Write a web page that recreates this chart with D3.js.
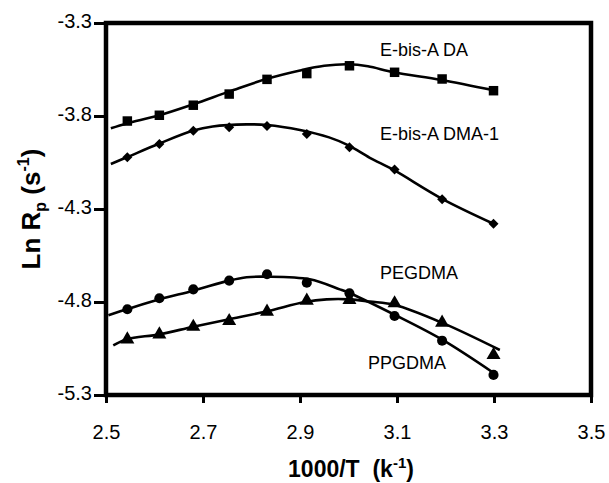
<!DOCTYPE html>
<html>
<head>
<meta charset="utf-8">
<script src="https://cdn.jsdelivr.net/npm/d3@7"></script>
<style>
  html, body { margin: 0; padding: 0; background: #fff; }
  svg { display: block; font-family: "Liberation Sans", Arial, Helvetica, sans-serif; }
</style>
</head>
<body>
<svg id="chart" width="609" height="483"></svg>
<script>
// ---- data ----
const invT = [2.544, 2.610, 2.680, 2.754, 2.832, 2.914, 3.002, 3.095, 3.193, 3.299];
const ebisADA   = [-3.827, -3.796, -3.742, -3.682, -3.603, -3.572, -3.530, -3.565, -3.601, -3.664];
const ebisADMA1 = [-4.022, -3.951, -3.879, -3.861, -3.854, -3.897, -3.968, -4.087, -4.248, -4.379];
const pegdma    = [-4.839, -4.780, -4.732, -4.685, -4.651, -4.696, -4.753, -4.875, -5.008, -5.192];
const ppgdma    = [-5.001, -4.974, -4.933, -4.902, -4.852, -4.793, -4.789, -4.807, -4.911, -5.085];

// trend curves as drawn in the reference
const fitDA   = [[2.51,-3.866],[2.543,-3.840],[2.61,-3.796],[2.68,-3.737],[2.754,-3.669],[2.832,-3.600],[2.90,-3.555],[2.95,-3.530],[3.0,-3.522],[3.04,-3.533],[3.093,-3.565],[3.191,-3.606],[3.299,-3.661]];
const fitDMA1 = [[2.51,-4.058],[2.543,-4.022],[2.61,-3.948],[2.68,-3.878],[2.72,-3.856],[2.79,-3.845],[2.832,-3.848],[2.9,-3.875],[2.96,-3.915],[3.0,-3.958],[3.044,-4.025],[3.093,-4.090],[3.193,-4.245],[3.299,-4.379]];
const fitPEG  = [[2.505,-4.871],[2.543,-4.839],[2.61,-4.785],[2.68,-4.739],[2.754,-4.685],[2.79,-4.667],[2.831,-4.664],[2.92,-4.678],[2.982,-4.732],[3.003,-4.753],[3.096,-4.870],[3.194,-5.004],[3.300,-5.183]];
const fitPPG  = [[2.515,-5.033],[2.543,-5.000],[2.61,-4.974],[2.68,-4.933],[2.754,-4.893],[2.832,-4.850],[2.91,-4.800],[2.955,-4.786],[3.003,-4.786],[3.044,-4.798],[3.096,-4.816],[3.196,-4.915],[3.312,-5.058]];

const xTicks = [2.5, 2.7, 2.9, 3.1, 3.3, 3.5];
const yTicks = [-3.3, -3.8, -4.3, -4.8, -5.3];

const seriesLabels = ["E-bis-A DA", "E-bis-A DMA-1", "PEGDMA", "PPGDMA"];

// ---- layout ----
const svg = d3.select("#chart");
const L = 106, R = 591, T = 23, B = 395;
const x = d3.scaleLinear().domain([2.5, 3.5]).range([L, R]);
const y = d3.scaleLinear().domain([-5.3, -3.3]).range([B, T]);
const fmt = d => d.toFixed(1);

// frame
svg.append("rect").attr("x", L).attr("y", T).attr("width", R - L).attr("height", B - T)
  .attr("fill", "none").attr("stroke", "#000").attr("stroke-width", 4.5);

// axes
const xAxis = d3.axisBottom(x).tickValues(xTicks).tickFormat(fmt).tickSizeInner(8).tickSizeOuter(0).tickPadding(22);
const gx = svg.append("g").attr("transform", `translate(0,${B})`).call(xAxis);
gx.select(".domain").remove();
gx.selectAll(".tick line").attr("stroke", "#000").attr("stroke-width", 3);
gx.selectAll(".tick text").attr("font-size", 20).attr("fill", "#000")
  .attr("font-family", "Liberation Sans, Arial, sans-serif").attr("dy", "0.71em");

const yAxis = d3.axisLeft(y).tickValues(yTicks).tickFormat(fmt).tickSizeInner(12).tickSizeOuter(0).tickPadding(2);
const gy = svg.append("g").attr("transform", `translate(${L},0)`).call(yAxis);
gy.select(".domain").remove();
gy.selectAll(".tick line").attr("stroke", "#000").attr("stroke-width", 3);
gy.selectAll(".tick text").attr("font-size", 20).attr("fill", "#000")
  .attr("font-family", "Liberation Sans, Arial, sans-serif").attr("dy", "0.2em");

// axis titles
const xt = svg.append("text").attr("x", 351).attr("y", 477).attr("text-anchor", "middle")
  .attr("font-size", 23).attr("font-weight", "bold");
xt.append("tspan").text("1000/T\u00a0\u00a0(k");
xt.append("tspan").attr("font-size", 15).attr("dy", -9).text("-1");
xt.append("tspan").attr("dy", 9).text(")");

const yt = svg.append("text").attr("transform", "translate(40,209) rotate(-90)")
  .attr("text-anchor", "middle").attr("font-size", 26).attr("font-weight", "bold");
yt.append("tspan").text("Ln R");
yt.append("tspan").attr("font-size", 16).attr("dy", 6).text("p");
yt.append("tspan").attr("dy", -6).text(" (s");
yt.append("tspan").attr("font-size", 16).attr("dy", -11).text("-1");
yt.append("tspan").attr("dy", 11).text(")");

// curves
const line = d3.line().x(d => x(d[0])).y(d => y(d[1])).curve(d3.curveCatmullRom.alpha(0.5));
[fitDA, fitDMA1, fitPEG, fitPPG].forEach(f => {
  svg.append("path").datum(f).attr("d", line).attr("fill", "none")
    .attr("stroke", "#000").attr("stroke-width", 2.6).attr("stroke-linejoin", "round");
});

// markers
const sym = {
  square: d3.symbol().type(d3.symbolSquare).size(90),
  diamond: d3.symbol().type(d3.symbolSquare).size(50),
  circle: d3.symbol().type(d3.symbolCircle).size(80),
  triangle: d3.symbol().type(d3.symbolTriangle).size(85)
};
function markers(vals, s, rot) {
  svg.append("g").selectAll("path").data(vals).join("path")
    .attr("transform", (d, i) => `translate(${x(invT[i])},${y(d)}) rotate(${rot || 0})`)
    .attr("d", sym[s]).attr("fill", "#000");
}
markers(ebisADA, "square");
markers(ebisADMA1, "diamond", 45);
markers(pegdma, "circle");
markers(ppgdma, "triangle");

// series labels
const labelPos = [[380, 55.5], [380, 140], [380, 278.5], [368, 368.5]];
seriesLabels.forEach((t, i) => {
  svg.append("text").attr("x", labelPos[i][0]).attr("y", labelPos[i][1])
    .attr("font-size", 18).attr("fill", "#000").text(t);
});
</script>
</body>
</html>
